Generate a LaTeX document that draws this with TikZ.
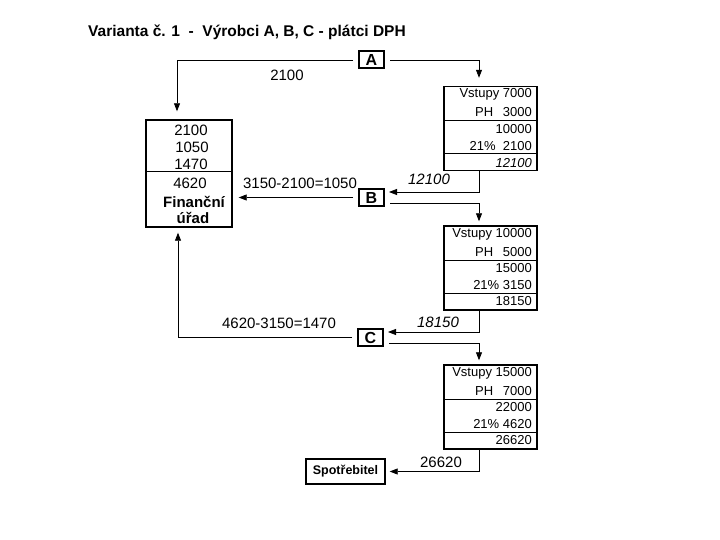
\documentclass[tikz,border=0pt]{standalone}
\usepackage{fontspec}
\setmainfont{Liberation Sans}
\usetikzlibrary{arrows.meta,positioning,calc}

\tikzset{
    firm/.style={draw, line width=2pt, font=\bfseries\fontsize{16}{18}\selectfont,
        minimum width=25pt, minimum height=17pt, inner sep=0pt},
    tab/.style={draw, line width=1.4pt, minimum width=93pt, minimum height=84pt, inner sep=0pt},
    cell/.style={anchor=east, inner sep=0pt, font=\fontsize{13}{15}\selectfont},
    phcell/.style={anchor=west, inner sep=0pt, font=\fontsize{13}{15}\selectfont},
    amount/.style={font=\fontsize{15}{17}\selectfont, inner sep=0pt},
    flow/.style={line width=0.8pt, -{Triangle[length=8pt,width=6pt]}},
}

\begin{document}
\begin{tikzpicture}[x=1pt, y=-1pt]
    \useasboundingbox (0,0) rectangle (720,540);
    \node[font=\bfseries\fontsize{15.5}{18}\selectfont, anchor=west, inner sep=0pt] (title) at (88,32)
        {Varianta č. 1\ \ -\ \ Výrobci A, B, C - plátci DPH};

    % vyrobci
    \node[firm] (A) at (371.5,59.5) {A};
    \node[firm] (B) at (371.5,197.5) {B};
    \node[firm] (C) at (370.5,337.5) {C};

    % financni urad
    \node[draw, line width=1.4pt, minimum width=86pt, minimum height=107pt, inner sep=0pt] (fu) at (189,173.5) {};
    \draw[line width=1pt] (146,172) -- (232,172);
    \node[font=\fontsize{15}{17}\selectfont, inner sep=0pt] (fu1) at (191,130) {2100};
    \node[font=\fontsize{15}{17}\selectfont, inner sep=0pt] (fu2) at (192,147) {1050};
    \node[font=\fontsize{15}{17}\selectfont, inner sep=0pt] (fu3) at (191,164) {1470};
    \node[font=\fontsize{15}{17}\selectfont, inner sep=0pt] (fu4) at (190,183) {4620};
    \node[font=\bfseries\fontsize{15}{17}\selectfont, inner sep=0pt] (fu5) at (194,202) {Finanční};
    \node[font=\bfseries\fontsize{15}{17}\selectfont, inner sep=0pt] (fu6) at (193,218) {úřad};

    % tabulka A
    \node[tab] (t1) at (490.5,128.5) {};
    \draw[line width=1pt] (444,121) -- (537,121);
    \draw[line width=1pt] (444,154) -- (537,154);
    \node[cell] (t1a) at (532,94) {Vstupy 7000};
    \node[phcell] (t1b) at (475,112) {PH};
    \node[cell] (t1c) at (532,112) {3000};
    \node[cell] (t1d) at (532,129) {10000};
    \node[cell] (t1e) at (532,146) {21\%\ \ 2100};
    \node[cell, font=\itshape\fontsize{13}{15}\selectfont] (t1f) at (532,163) {12100};

    % tabulka B
    \node[tab] (t2) at (490.5,268) {};
    \draw[line width=1pt] (444,260) -- (537,260);
    \draw[line width=1pt] (444,293) -- (537,293);
    \node[cell] (t2a) at (532,234) {Vstupy 10000};
    \node[phcell] (t2b) at (475,252) {PH};
    \node[cell] (t2c) at (532,252) {5000};
    \node[cell] (t2d) at (532,268) {15000};
    \node[cell] (t2e) at (532,285) {21\% 3150};
    \node[cell] (t2f) at (532,301) {18150};

    % tabulka C
    \node[tab] (t3) at (490.5,407) {};
    \draw[line width=1pt] (444,399) -- (537,399);
    \draw[line width=1pt] (444,432) -- (537,432);
    \node[cell] (t3a) at (532,373) {Vstupy 15000};
    \node[phcell] (t3b) at (475,391) {PH};
    \node[cell] (t3c) at (532,391) {7000};
    \node[cell] (t3d) at (532,407) {22000};
    \node[cell] (t3e) at (532,424) {21\% 4620};
    \node[cell] (t3f) at (532,440) {26620};

    % spotrebitel
    \node[draw, line width=1.4pt, minimum width=79pt, minimum height=25pt, inner sep=0pt,
        font=\bfseries\fontsize{12.5}{14}\selectfont] (sp) at (345.5,471.5) {Spotřebitel};

    % toky
    \draw[flow, shorten <=5pt, shorten >=8pt] ([yshift=-1pt]A.west) -| ([xshift=-12pt]fu.north);
    \draw[flow, shorten <=5pt, shorten >=8pt] ([yshift=-1pt]A.east) -| ([xshift=-11.5pt]t1.north);
    \draw[flow, shorten >=4pt] ([xshift=-11.5pt]t1.south) |- ([yshift=5.5pt]B.east);
    \draw[flow, shorten <=5pt, shorten >=6pt] (B.west) -- (fu.east |- B.west);
    \draw[flow, shorten <=5pt, shorten >=4pt] ([yshift=-5.5pt]B.east) -| ([xshift=-11.5pt]t2.north);
    \draw[flow, shorten >=4pt] ([xshift=-11.5pt]t2.south) |- ([yshift=5.5pt]C.east);
    \draw[flow, shorten <=5pt, shorten >=5pt] (C.west) -| ([xshift=-11pt]fu.south);
    \draw[flow, shorten <=5pt, shorten >=4pt] ([yshift=-5.5pt]C.east) -| ([xshift=-11.5pt]t3.north);
    \draw[flow, shorten >=4pt] ([xshift=-11.5pt]t3.south) |- (sp.east);

    % castky
    \node[amount] (l1) at (287,75) {2100};
    \node[amount, font=\itshape\fontsize{15}{17}\selectfont] (l2) at (429,179) {12100};
    \node[amount] (l3) at (300,183) {3150-2100=1050};
    \node[amount, font=\itshape\fontsize{15}{17}\selectfont] (l4) at (438,322) {18150};
    \node[amount] (l5) at (279,323) {4620-3150=1470};
    \node[amount] (l6) at (441,462) {26620};
\end{tikzpicture}
\end{document}
